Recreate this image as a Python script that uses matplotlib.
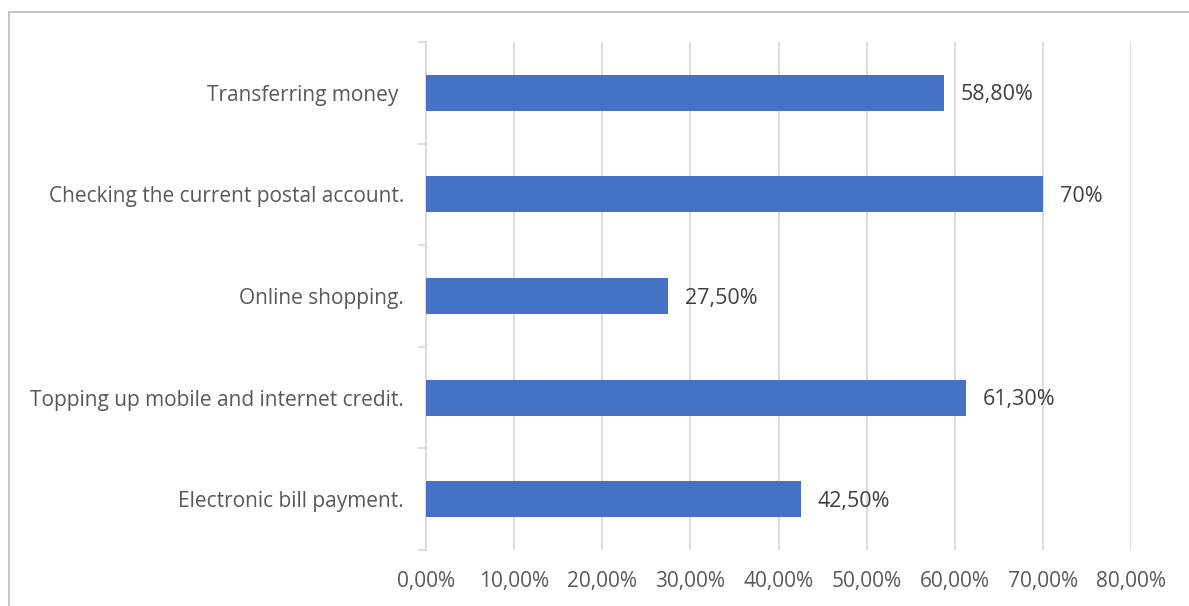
import matplotlib
matplotlib.use("Agg")
import matplotlib.pyplot as plt
from matplotlib.patches import Rectangle
from matplotlib.ticker import FixedLocator

categories = [
    "Transferring money ",
    "Checking the current postal account.",
    "Online shopping.",
    "Topping up mobile and internet credit.",
    "Electronic bill payment.",
]
values = [58.8, 70.0, 27.5, 61.3, 42.5]
value_labels = ["58,80%", "70%", "27,50%", "61,30%", "42,50%"]
x_ticks = [0, 10, 20, 30, 40, 50, 60, 70, 80]
x_tick_labels = ["0,00%", "10,00%", "20,00%", "30,00%", "40,00%",
                 "50,00%", "60,00%", "70,00%", "80,00%"]

W, H = 1189, 606
fig = plt.figure(figsize=(W / 100, H / 100), dpi=100)
plt.rcParams['font.family'] = ['Open Sans', 'DejaVu Sans']

text_color = "#595959"
grid_color = "#D9D9D9"
bar_color = "#4472C4"
fs = 15

ax = fig.add_axes([426 / W, 1 - 550 / H, (1131 - 426) / W, (550 - 42) / H])

ypos = list(range(len(categories)))[::-1]
ax.barh(ypos, values, height=0.355, color=bar_color, zorder=3)

for y, v, lab in zip(ypos, values, value_labels):
    ax.annotate(lab, (v, y), xytext=(12, -1.5), textcoords="offset points",
                va="center", ha="left", fontsize=15.5, color="#404040")

ax.set_xlim(0, 80)
ax.set_ylim(-0.5, len(categories) - 0.5)
ax.set_xticks(x_ticks)
ax.set_xticklabels(x_tick_labels)
ax.set_yticks(ypos)
ax.set_yticklabels(categories)

ax.xaxis.grid(True, color=grid_color, linewidth=1.3, zorder=0)
ax.tick_params(axis="x", length=0, pad=15, labelsize=fs, labelcolor=text_color)
ax.tick_params(axis="y", length=0, pad=16, labelsize=fs, labelcolor=text_color)

# minor ticks at category boundaries on the value axis
ax.yaxis.set_minor_locator(FixedLocator([i - 0.5 for i in range(len(categories) + 1)]))
ax.tick_params(axis="y", which="minor", length=6, color=grid_color, width=1.3)

for side in ["top", "right", "bottom"]:
    ax.spines[side].set_visible(False)
ax.spines["left"].set_color(grid_color)
ax.spines["left"].set_linewidth(1.3)

# chart frame
fig.patches.append(Rectangle((8.5 / W, -0.1), 1.2, 1 - 12.5 / H + 0.1,
                             transform=fig.transFigure, fill=False,
                             edgecolor="#BFBFBF", linewidth=1.3))

fig.savefig("out.png", dpi=100, facecolor="white")
